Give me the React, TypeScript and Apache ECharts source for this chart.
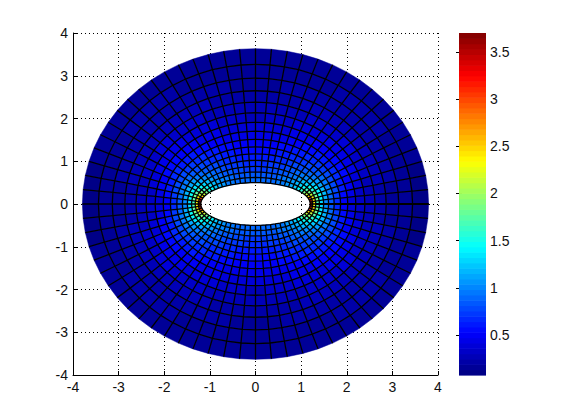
import React, { useEffect, useRef } from "react";
import * as echarts from "echarts";

const colorbarTicks = [0.5, 1, 1.5, 2, 2.5, 3, 3.5];
const colorMin = 0.076;
const colorMax = 3.7;
const colorLevels = 64;

// Mesh: radial levels and conformal-map constants of the ellipse grid
const rhoLevels = [1, 1.103, 1.217, 1.342, 1.48, 1.633, 1.801, 1.987, 2.191, 2.417, 2.666, 2.941, 3.243, 3.578, 3.946, 4.37];
const sectorsPerQuadrant = 17;
const meshR = 0.85;
const meshC = 0.35;

// Values per ring (inner to outer), per sector from the tip (theta=0) to the top (theta=90)
const ring00 = [3.7, 3.5, 3.0, 2.5, 2.15, 1.85, 1.6, 1.4, 1.24, 1.12, 1.04, 0.98, 0.94, 0.91, 0.89, 0.88, 0.88];
const ring01 = [2.35, 2.5, 2.4, 2.15, 1.9, 1.68, 1.48, 1.32, 1.18, 1.07, 0.99, 0.93, 0.89, 0.86, 0.84, 0.82, 0.82];
const ring02 = [1.7, 1.82, 1.85, 1.75, 1.6, 1.45, 1.3, 1.17, 1.07, 0.98, 0.91, 0.86, 0.82, 0.79, 0.77, 0.75, 0.75];
const ring03 = [1.3, 1.4, 1.45, 1.42, 1.34, 1.24, 1.13, 1.03, 0.95, 0.88, 0.83, 0.78, 0.75, 0.72, 0.7, 0.68, 0.67];
const ring04 = [1.03, 1.1, 1.16, 1.16, 1.12, 1.06, 0.98, 0.91, 0.85, 0.8, 0.76, 0.72, 0.69, 0.66, 0.64, 0.62, 0.61];
const ring05 = [0.82, 0.88, 0.93, 0.95, 0.94, 0.9, 0.86, 0.81, 0.76, 0.72, 0.69, 0.66, 0.63, 0.6, 0.58, 0.56, 0.55];
const ring06 = [0.65, 0.71, 0.76, 0.78, 0.78, 0.77, 0.74, 0.71, 0.68, 0.65, 0.62, 0.59, 0.56, 0.54, 0.52, 0.5, 0.49];
const ring07 = [0.5, 0.56, 0.6, 0.63, 0.65, 0.65, 0.63, 0.61, 0.59, 0.57, 0.54, 0.52, 0.49, 0.47, 0.45, 0.43, 0.42];
const ring08 = [0.4, 0.44, 0.48, 0.51, 0.53, 0.53, 0.53, 0.52, 0.5, 0.49, 0.47, 0.45, 0.43, 0.41, 0.39, 0.37, 0.36];
const ring09 = [0.32, 0.35, 0.38, 0.41, 0.43, 0.44, 0.44, 0.43, 0.42, 0.41, 0.4, 0.38, 0.36, 0.34, 0.32, 0.31, 0.3];
const ring10 = [0.26, 0.28, 0.3, 0.33, 0.34, 0.35, 0.36, 0.36, 0.35, 0.34, 0.33, 0.32, 0.3, 0.29, 0.27, 0.26, 0.25];
const ring11 = [0.21, 0.23, 0.25, 0.26, 0.27, 0.28, 0.29, 0.29, 0.29, 0.28, 0.27, 0.26, 0.25, 0.24, 0.23, 0.22, 0.22];
const ring12 = [0.17, 0.18, 0.19, 0.2, 0.21, 0.22, 0.23, 0.23, 0.23, 0.23, 0.22, 0.21, 0.21, 0.2, 0.19, 0.18, 0.18];
const ring13 = [0.14, 0.15, 0.16, 0.17, 0.17, 0.18, 0.19, 0.19, 0.19, 0.19, 0.19, 0.18, 0.18, 0.17, 0.16, 0.16, 0.155];
const ring14 = [0.12, 0.125, 0.13, 0.14, 0.145, 0.15, 0.155, 0.16, 0.16, 0.16, 0.16, 0.155, 0.15, 0.145, 0.14, 0.135, 0.135];
const rings = [ring00, ring01, ring02, ring03, ring04, ring05, ring06, ring07, ring08, ring09, ring10, ring11, ring12, ring13, ring14];

function jet(f: number) {
  const clamp = (v: number) => Math.max(0, Math.min(1, v));
  const r = clamp(1.5 - Math.abs(4 * f - 3));
  const g = clamp(1.5 - Math.abs(4 * f - 2));
  const b = clamp(1.5 - Math.abs(4 * f - 1));
  return `rgb(${Math.round(r * 255)},${Math.round(g * 255)},${Math.round(b * 255)})`;
}
function colorOf(v: number) {
  const level = Math.min(colorLevels - 1, Math.max(0, Math.floor(((v - colorMin) / (colorMax - colorMin)) * colorLevels)));
  return jet((level + 0.5) / colorLevels);
}
function meshPoint(i: number, j: number) {
  const rho = rhoLevels[i];
  const t = (j * Math.PI) / (2 * sectorsPerQuadrant);
  return [(meshR * rho + meshC / rho) * Math.cos(t), (meshR * rho - meshC / rho) * Math.sin(t)];
}

const sectorCount = 4 * sectorsPerQuadrant;
const cells: number[][] = [];
rings.forEach((ring, i) => {
  for (let j = 0; j < sectorCount; j++) {
    const q = Math.floor(j / sectorsPerQuadrant);
    const k = j % sectorsPerQuadrant;
    const idx = q % 2 === 0 ? k : sectorsPerQuadrant - 1 - k;
    cells.push([i, j, ring[idx]]);
  }
});

// Mesh lines: [0, ring] is a closed ring, [1, sector] is a radial spoke
const meshLines: number[][] = [];
rhoLevels.slice(0, -1).forEach((_, i) => meshLines.push([0, i]));
for (let j = 0; j < sectorCount; j++) meshLines.push([1, j]);

const colorbarSteps: number[][] = [];
for (let l = 0; l < colorLevels; l++) {
  const step = (colorMax - colorMin) / colorLevels;
  colorbarSteps.push([colorMin + l * step, colorMin + (l + 1) * step]);
}
const seamRings = rhoLevels.slice(2, -1).map((_, i) => [i + 2]);

const font = "'Liberation Sans', Arial, sans-serif";
const cartesianAxis = (position: string) => ({
  type: "value",
  position,
  min: -4,
  max: 4,
  interval: 1,
  axisLine: { show: true, onZero: false, lineStyle: { color: "#000", width: 1 } },
  axisTick: { show: true, inside: true, length: 4, lineStyle: { color: "#000" } },
  axisLabel: { color: "#111", fontFamily: font, fontSize: 14, margin: 5, showMinLabel: true, showMaxLabel: true },
  splitLine: { show: true, lineStyle: { color: "#000", type: [1, 3], width: 1 } },
});
const barAxis = (position: string, labels: boolean) => ({
  type: "value",
  gridIndex: 1,
  position,
  min: colorMin,
  max: colorMax,
  axisLine: { show: false },
  axisTick: { show: true, inside: true, length: 3, lineStyle: { color: "#000" }, customValues: colorbarTicks },
  axisLabel: labels
    ? { show: true, color: "#111", fontFamily: font, fontSize: 14, margin: 4, customValues: colorbarTicks, formatter: (v: number) => String(v) }
    : { show: false },
  splitLine: { show: false },
});

export default function App() {
  const ref = useRef<HTMLDivElement>(null);
  useEffect(() => {
    const chart = echarts.init(ref.current!, undefined, { renderer: "svg" });
    chart.setOption({
      animation: false,
      backgroundColor: "#fff",
      grid: [
        { left: 73, top: 33, width: 365, height: 342 },
        { left: 459, top: 33, width: 27, height: 342 },
      ],
      xAxis: [
        cartesianAxis("bottom"),
        { type: "value", gridIndex: 1, min: 0, max: 1, show: false },
      ],
      yAxis: [cartesianAxis("left"), barAxis("right", true), barAxis("left", false)],
      series: [
        {
          type: "custom",
          name: "mesh",
          coordinateSystem: "cartesian2d",
          xAxisIndex: 0,
          yAxisIndex: 0,
          silent: true,
          clip: false,
          data: cells,
          encode: { x: [], y: [] },
          renderItem: (_: any, api: any) => {
            const i = api.value(0);
            const j = api.value(1);
            const corners = [meshPoint(i, j), meshPoint(i + 1, j), meshPoint(i + 1, j + 1), meshPoint(i, j + 1)];
            const color = colorOf(api.value(2));
            return {
              type: "polygon",
              shape: { points: corners.map((c) => api.coord(c)) },
              style: { fill: color, stroke: color, lineWidth: 0.5 },
            };
          },
        },
        {
          type: "custom",
          name: "meshLines",
          coordinateSystem: "cartesian2d",
          xAxisIndex: 0,
          yAxisIndex: 0,
          silent: true,
          clip: false,
          z: 3,
          data: meshLines,
          encode: { x: [], y: [] },
          renderItem: (_: any, api: any) => {
            const kind = api.value(0);
            const n = api.value(1);
            const points: number[][] = [];
            if (kind === 0) {
              for (let j = 0; j <= sectorCount; j++) points.push(api.coord(meshPoint(n, j)));
            } else {
              for (let i = 0; i < rhoLevels.length; i++) points.push(api.coord(meshPoint(i, n)));
            }
            return {
              type: "polyline",
              shape: { points },
              style: { fill: null, stroke: "#000", lineWidth: 1.3 },
            };
          },
        },
        {
          type: "custom",
          name: "seam",
          coordinateSystem: "cartesian2d",
          xAxisIndex: 0,
          yAxisIndex: 0,
          silent: true,
          clip: false,
          z: 4,
          data: seamRings,
          encode: { x: [], y: [] },
          renderItem: (_: any, api: any) => {
            const i = api.value(0);
            const a = api.coord(meshPoint(i, 0));
            const b = api.coord(meshPoint(i + 1, 0));
            return {
              type: "line",
              shape: { x1: a[0], y1: a[1], x2: b[0], y2: b[1] },
              style: { stroke: "#000", lineWidth: 2 },
            };
          },
        },
        {
          type: "custom",
          name: "colorbar",
          coordinateSystem: "cartesian2d",
          xAxisIndex: 1,
          yAxisIndex: 1,
          silent: true,
          data: colorbarSteps,
          encode: { y: [0, 1] },
          renderItem: (_: any, api: any) => {
            const lo = api.coord([0, api.value(0)]);
            const hi = api.coord([1, api.value(1)]);
            return {
              type: "rect",
              shape: { x: lo[0], y: hi[1], width: hi[0] - lo[0], height: lo[1] - hi[1] + 0.6 },
              style: { fill: colorOf((api.value(0) + api.value(1)) / 2), stroke: null },
            };
          },
        },
      ],
    });
    return () => chart.dispose();
  }, []);
  return <div ref={ref} style={{ position: "fixed", left: 0, top: 0, width: 561, height: 420, background: "#fff" }} />;
}
